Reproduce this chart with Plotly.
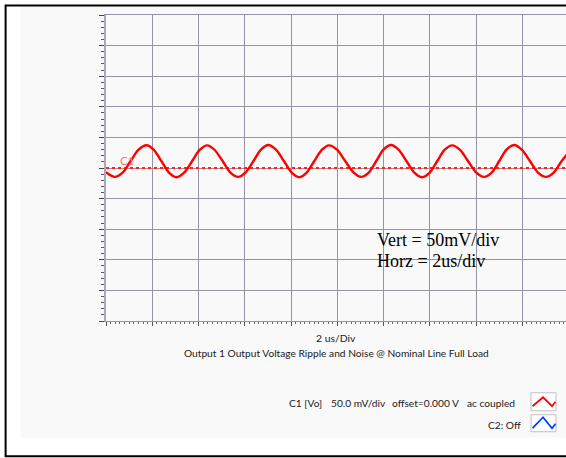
import plotly.graph_objects as go

# ---------------- data ----------------
time_us = [0.0, 0.37, 0.72, 1.06, 1.40, 1.75, 2.07, 2.40, 2.72, 3.05, 3.38, 3.72,
           4.05, 4.38, 4.71, 5.05, 5.38, 5.72, 6.04, 6.37, 6.70, 7.02, 7.36, 7.70,
           8.03, 8.36, 8.68, 9.00, 9.33, 9.65, 10.00, 10.35, 10.70, 11.04, 11.36,
           11.68, 12.00, 12.33, 12.66, 13.00, 13.33, 13.67, 14.00, 14.32, 14.64,
           14.97, 15.31, 15.66, 16.00, 16.35, 16.68, 17.00, 17.32, 17.65, 17.99,
           18.34, 18.68, 19.03, 19.36, 19.70, 20.0]
ripple_mv = [-7.0, -14.5, -7.5, 11.0, 29.5, 37.2, 29.5, 11.0, -7.5, -15.0, -7.5, 11.0,
             29.5, 37.0, 29.0, 11.0, -7.5, -14.5, -7.0, 11.0, 30.0, 37.5, 29.5, 11.0,
             -7.5, -15.0, -7.5, 11.0, 29.5, 37.0, 29.5, 11.0, -7.0, -14.5, -7.5,
             11.0, 30.0, 37.5, 29.5, 11.0, -7.5, -15.0, -7.5, 11.0, 29.5,
             37.0, 29.5, 11.0, -7.0, -14.5, -7.5, 11.0, 30.0, 37.5, 29.5,
             11.0, -7.5, -14.5, -7.5, 11.0, 25.0]
ground_level_mv = 0.0
volts_per_div_mv = 50
time_per_div_us = 2
n_divs = 10

W, H = 566, 458
L, R_PX, T, B_PX = 105.5, 566.0, 15.0, 321.2
pw, ph = R_PX - L, B_PX - T
div_px = 46.3
x_max = (pw / div_px) * time_per_div_us


def px(x):
    return (x - L) / pw


def py(y):
    return (B_PX - y) / ph


fig = go.Figure()

fig.add_trace(go.Scatter(
    x=[0, n_divs * time_per_div_us], y=[ground_level_mv, ground_level_mv],
    mode="lines", line=dict(color="#ff2020", width=2, dash="dot"),
    hoverinfo="skip", showlegend=False))

fig.add_trace(go.Scatter(
    x=time_us, y=ripple_mv, mode="lines",
    line=dict(color="#ff0000", width=2.4, shape="spline", smoothing=0.8),
    showlegend=False))

grid_col = "#9494a6"
fig.update_xaxes(
    range=[0, x_max], dtick=time_per_div_us, tick0=0,
    showgrid=True, gridcolor=grid_col, gridwidth=1,
    showline=True, linecolor=grid_col, linewidth=1, mirror=True,
    ticks="outside", ticklen=4, tickcolor="#555555", tickwidth=1,
    minor=dict(dtick=time_per_div_us / 10, ticks="outside", ticklen=2,
               tickcolor="#666666", tickwidth=1, showgrid=False),
    showticklabels=False, zeroline=False, fixedrange=True)
fig.update_yaxes(
    range=[-n_divs / 2 * volts_per_div_mv, n_divs / 2 * volts_per_div_mv],
    dtick=volts_per_div_mv, tick0=0,
    showgrid=True, gridcolor=grid_col, gridwidth=1,
    showline=True, linecolor="#a8a8b8", linewidth=1.5,
    ticks="outside", ticklen=5, tickcolor="#444444", tickwidth=1,
    minor=dict(dtick=volts_per_div_mv / 5, ticks="outside", ticklen=3,
               tickcolor="#555555", tickwidth=1, showgrid=False),
    showticklabels=False, zeroline=False, fixedrange=True)

shapes = [
    # grey panel
    dict(type="rect", xref="paper", yref="paper", layer="below",
         x0=px(20), x1=px(575), y0=py(438), y1=py(7),
         fillcolor="#f9f9f9", line=dict(width=0)),
    # black frame
    dict(type="rect", xref="paper", yref="paper", layer="above",
         x0=px(5), x1=px(580), y0=py(456.5), y1=py(5.5),
         fillcolor="rgba(0,0,0,0)", line=dict(color="#000000", width=2)),
    # legend icon boxes
    dict(type="rect", xref="paper", yref="paper",
         x0=px(531), x1=px(556), y0=py(411), y1=py(393),
         fillcolor="#ffffff", line=dict(color="#c0c0c0", width=1)),
    dict(type="rect", xref="paper", yref="paper",
         x0=px(531), x1=px(556), y0=py(432), y1=py(415),
         fillcolor="#ffffff", line=dict(color="#c0c0c0", width=1)),
    dict(type="path", xref="paper", yref="paper",
         path=f"M {px(532.5)},{py(406.5)} L {px(543)},{py(397.5)} L {px(552)},{py(406.5)} L {px(555.5)},{py(402)}",
         line=dict(color="#ff0000", width=1.8)),
    dict(type="path", xref="paper", yref="paper",
         path=f"M {px(532.5)},{py(428.5)} L {px(543)},{py(417.5)} L {px(552)},{py(428.5)} L {px(555.5)},{py(424)}",
         line=dict(color="#0040ff", width=1.8)),
]

sans = "Lato"
ann = []


def add_text(text, x, y, size, anchor="left", color="#1a1a1a", family=sans):
    ann.append(dict(text=text, x=px(x), y=py(y), xref="paper", yref="paper",
                    xanchor=anchor, yanchor="middle", showarrow=False,
                    font=dict(family=family, size=size, color=color)))


add_text("Vert = 50mV/div", 375, 240, 18, family="Liberation Serif", color="#000000")
add_text("Horz = 2us/div", 375, 261, 18, family="Liberation Serif", color="#000000")
add_text("C1", 127, 161, 11.5, anchor="center", color="#f07a7a")
add_text("2 us/Div", 336, 338, 10.4, anchor="center")
add_text("Output 1 Output Voltage Ripple and Noise @ Nominal Line Full Load", 336, 353, 10.2, anchor="center")
add_text("C1 [Vo]", 287, 403, 10.2)
add_text("50.0 mV/div", 329, 403, 10.2)
add_text("offset=0.000 V", 390, 403, 10.2)
add_text("ac coupled", 465, 403, 10.2)
add_text("C2: Off", 523, 425, 10.2, anchor="right")

fig.update_layout(
    width=W, height=H, autosize=False,
    margin=dict(l=L, r=W - R_PX, t=T, b=H - B_PX, pad=0),
    paper_bgcolor="#ffffff", plot_bgcolor="#f9f9f9",
    shapes=shapes, annotations=ann, showlegend=False)

fig.write_html("out.html", config={"displayModeBar": False},
               post_script="document.body.style.margin='0';document.body.style.overflow='hidden';")
